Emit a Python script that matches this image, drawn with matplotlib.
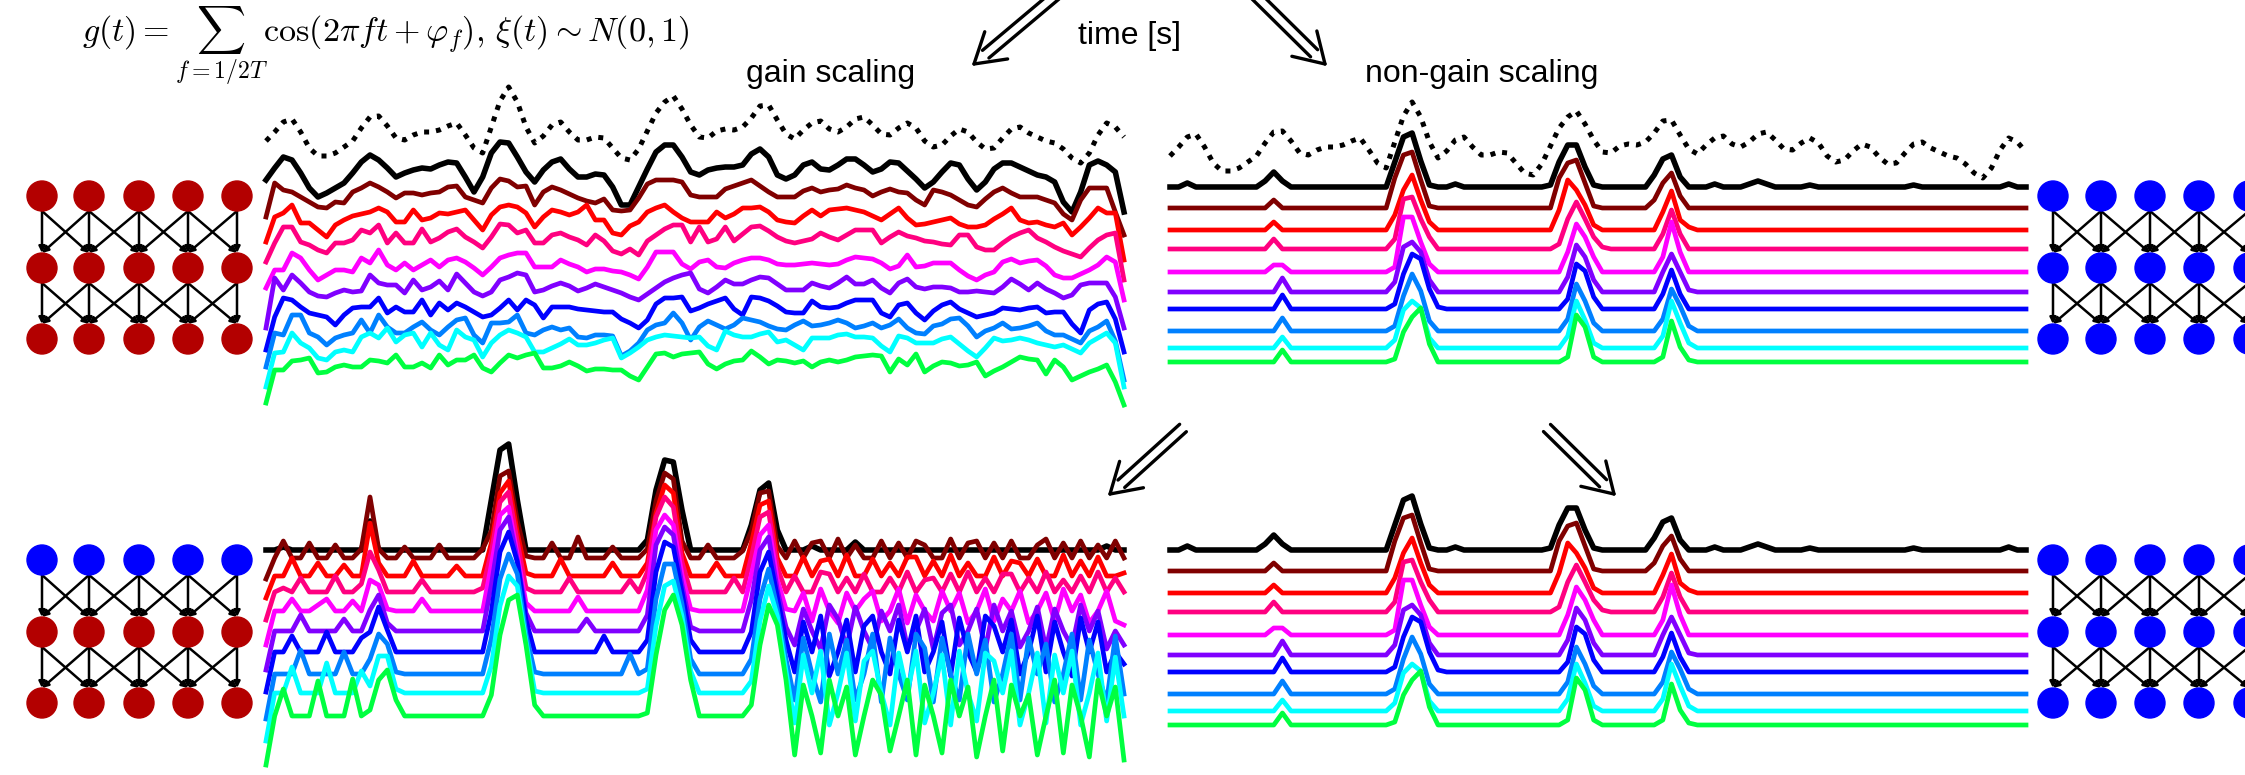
import matplotlib
matplotlib.use("Agg")
import matplotlib.pyplot as plt
import numpy as np
from matplotlib.patches import Circle, FancyArrowPatch

W, H = 2245, 775

# input signal g(t) (px above its baseline)
g_input = [29, 38, 48, 51, 38, 22, 14, 14, 17, 23,
           29, 42, 53, 54, 44, 32, 30, 35, 38, 38,
           40, 44, 47, 35, 22, 17, 43, 69, 83, 68,
           43, 27, 34, 45, 48, 38, 30, 30, 33, 32,
           22, 12, 10, 21, 39, 57, 68, 74, 61, 45,
           33, 32, 39, 41, 40, 43, 52, 64, 65, 50,
           36, 31, 40, 47, 49, 41, 38, 43, 51, 53,
           45, 36, 35, 42, 47, 42, 29, 23, 25, 34,
           41, 38, 28, 21, 22, 32, 41, 43, 37, 33,
           29, 27, 21, 12, 7, 17, 35, 47, 43, 33]

layer_colors = ["#000000", "#800000", "#ff0000", "#ff0080", "#ff00ff",
                "#8000ff", "#0000ff", "#0080ff", "#00ffff", "#00ff40"]
layer_off = [0, 21, 43, 62, 85, 105, 122, 144, 161, 175]

# gain scaling, top row (px above each layer baseline)
tl_traces = [
    [7, 19, 30, 27, 14, -1, -10, -6, -1, 4, 14, 25, 32, 27, 19, 10, 14, 17, 19, 18,
     22, 25, 24, 10, -5, 10, 34, 45, 44, 30, 15, 5, 17, 25, 28, 18, 10, 10, 13, 12,
     0, -18, -18, 0, 18, 35, 42, 42, 30, 15, 12, 17, 19, 20, 20, 22, 33, 38, 30, 12,
     8, 12, 22, 25, 18, 17, 22, 28, 28, 22, 15, 18, 25, 24, 16, 8, -1, 5, 15, 24,
     22, 8, -3, 5, 18, 24, 24, 20, 16, 12, 10, 5, -15, -25, -5, 22, 26, 22, 15, -25],
    [-9, 25, 18, 16, 11, 6, 1, 0, 6, 5, 16, 20, 25, 21, 16, 10, 15, 15, 13, 15,
     16, 21, 22, 11, 8, 5, 20, 29, 27, 21, 22, 3, 16, 21, 18, 14, 10, 7, 5, 9,
     -2, -3, -2, 10, 24, 28, 28, 28, 26, 13, 11, 11, 11, 19, 22, 25, 28, 22, 16, 11,
     11, 11, 17, 20, 16, 18, 19, 23, 20, 18, 12, 16, 19, 16, 15, 8, 3, 18, 16, 13,
     8, 3, 1, 9, 16, 20, 15, 11, 11, 11, 8, 5, -6, -12, 8, 20, 20, 20, -4, -27],
    [-12, 13, 17, 25, 7, 7, 0, -7, 5, 10, 14, 16, 18, 22, 18, 8, 8, 20, 10, 12,
     17, 16, 18, 20, 10, 0, 15, 23, 25, 23, 17, 3, 13, 20, 18, 15, 18, 25, 10, 10,
     -3, -5, 4, 8, 18, 22, 25, 18, 12, 8, 8, 8, 18, 12, 16, 22, 22, 23, 18, 10,
     8, 7, 14, 20, 14, 20, 21, 22, 20, 18, 14, 10, 16, 22, 12, 5, 6, 8, 10, 12,
     6, 3, 3, 5, 11, 16, 22, 10, 7, 8, 5, 3, 7, -5, 3, 12, 22, 17, 17, -30],
    [-13, 6, 22, 22, 7, 4, -1, -4, 6, 6, 9, 19, 16, 24, 6, 16, 6, 6, 20, 7,
     11, 17, 20, 12, 7, 1, 12, 25, 24, 16, 19, 6, 6, 14, 16, 12, 9, 4, 14, 8,
     -2, -5, 0, -6, 8, 14, 20, 24, 24, 7, 22, 7, 10, 22, 8, 15, 22, 23, 18, 12,
     8, 6, 8, 10, 16, 12, 9, 14, 19, 19, 19, 6, 12, 17, 13, 11, 8, 7, 5, 4,
     14, 14, 2, -1, -1, 6, 12, 16, 19, 11, 7, 2, -2, -5, -8, 1, 9, 14, 16, -31],
    [-16, 2, 2, 19, 14, 2, -8, -3, 2, 2, 0, 14, 9, 22, 7, 2, 9, 2, 7, 12,
     5, 12, 14, 10, 4, -3, 5, 14, 17, 19, 19, 5, 5, 5, 12, 8, 5, 0, 3, 3,
     1, 0, -3, -7, 5, 20, 20, 20, 8, 3, 10, 12, 5, 4, 9, 12, 14, 14, 12, 8,
     7, 7, 8, 9, 8, 7, 8, 12, 15, 14, 13, 9, 3, 6, 17, 5, 6, 9, 9, 9,
     2, -4, -8, -3, 0, 10, 13, 9, 11, 12, 6, -3, -6, -6, -2, 2, 7, 15, 10, -28],
    [-36, 14, 2, 17, 9, 0, -4, -5, -1, 2, 0, 1, 17, 9, 7, 7, -1, 12, 2, 5,
     11, 2, 18, 9, 0, -4, 0, 12, 15, 19, 17, 0, 2, 6, 9, 6, 1, 4, 8, 5,
     2, -1, -5, -8, -2, 4, 10, 14, 17, 19, 3, -1, 5, 12, 8, 8, 12, 15, 14, 8,
     2, 2, 2, 9, 6, 4, 9, 15, 8, 8, 12, 4, -1, 9, 13, 5, 3, 5, 5, 4,
     0, 0, 1, 0, -1, 5, 13, 8, 2, 9, 3, -1, -6, -3, 7, 9, 9, 9, -5, -36],
    [-41, -8, 11, 9, 2, -4, -6, -8, -16, -6, 1, 2, 2, 11, -4, 2, -3, -3, 9, -6,
     6, -1, 6, 2, -3, -8, -6, 1, 9, -1, 9, 4, -9, 2, 2, 2, 0, -1, -2, -3,
     -3, -10, -14, -19, -11, 5, 11, 11, 12, -2, 1, 5, 8, 11, 0, -6, 12, 11, 8, 3,
     -3, -4, -4, 8, 2, 1, 2, 6, 9, 9, 9, -4, -8, 4, 6, -4, -11, -2, 4, 7,
     0, -4, -8, -6, -4, 1, 0, -1, 1, 2, -4, -3, -3, -15, -24, -1, 5, 7, -10, -43],
    [-36, -2, -4, 16, 16, -2, -6, -14, -7, -4, -2, 11, -2, 16, 4, -2, -2, 4, 9, 1,
     -4, 4, 11, 13, -4, -12, 8, 8, 9, 16, -2, -4, 1, 4, 1, 3, -6, -7, -4, -4,
     -5, -25, -20, -12, 1, 6, 8, 18, 8, -9, 4, 10, 6, 2, 6, 13, 11, 9, 5, 2,
     1, 6, 10, 5, 6, 8, 11, 8, 3, 5, 8, 3, 6, 12, 3, -2, -3, 5, 7, 12,
     13, 5, -6, 0, 3, 8, 2, 3, 5, 8, 0, -4, -4, -8, -12, 0, 4, 10, -10, -49],
    [-39, -5, -4, 15, 5, 0, -10, -12, -4, -2, -4, 11, 15, 10, 20, 6, 13, 15, 1, 15,
     3, -2, 18, 11, 8, -9, 5, 13, 18, 15, 11, -4, -4, 0, 4, 9, 3, 3, 5, 8,
     10, -10, -5, 1, 8, 11, 13, 12, 11, 10, 11, 2, -2, 17, 13, 11, 11, 14, 16, 6,
     8, 3, -2, 10, 10, 10, 13, 14, 11, 11, 10, 2, -4, 12, 10, 5, 5, 5, 9, 11,
     4, -3, -9, 0, 10, 7, 8, 10, 8, 5, 3, 1, 3, -1, -5, 5, 10, 15, 5, -39],
    [-41, -8, -8, 1, 2, 4, -11, -10, -5, -3, -5, -5, 2, 1, -1, 7, -5, -5, -1, -6,
     7, -3, 2, 2, 7, -6, -10, -1, 7, 4, 7, 9, -6, -6, -4, 0, -4, -9, -7, -7,
     -8, -8, -14, -18, -5, 8, 9, 5, 8, 9, 10, -2, -7, -2, 1, 2, 11, 5, -2, 2,
     1, -1, 1, -5, 0, 2, 0, 2, 5, 6, 7, 6, -10, 3, -3, 8, -10, -4, 0, -1,
     -4, -3, 0, -14, -9, -5, 0, 5, 3, 2, -12, 2, -5, -18, -14, -10, -7, -3, -20, -43],
]

# non-gain scaling: flat traces with a few bumps {sample: height}
tr_peaks = [
    {2: 4, 11: 6, 12: 15, 13: 6, 26: 25, 27: 50, 28: 54, 29: 26, 30: 2, 33: 3,
     44: 2, 45: 25, 46: 42, 47: 42, 48: 20, 49: 2, 56: 12, 57: 28, 58: 32, 59: 10,
     63: 3, 67: 3, 68: 6, 69: 3, 74: 2, 86: 2, 97: 3},
    {12: 8, 26: 30, 27: 53, 28: 56, 29: 28, 30: 2, 45: 30, 46: 45, 47: 48, 48: 25,
     49: 2, 56: 8, 57: 25, 58: 35, 59: 12},
    {12: 8, 26: 15, 27: 40, 28: 55, 29: 30, 30: 8, 45: 20, 46: 50, 47: 40, 48: 25,
     49: 5, 57: 18, 58: 39, 59: 10, 60: 3},
    {12: 10, 26: 10, 27: 50, 28: 52, 29: 30, 30: 12, 45: 5, 46: 30, 47: 47, 48: 30,
     49: 12, 50: 2, 57: 15, 58: 39, 59: 15},
    {12: 7, 13: 7, 26: 5, 27: 55, 28: 55, 29: 30, 30: 8, 46: 20, 47: 48, 48: 35,
     49: 15, 57: 15, 58: 50, 59: 20},
    {13: 14, 26: 10, 27: 45, 28: 50, 29: 40, 30: 12, 46: 15, 47: 47, 48: 35, 49: 12,
     57: 20, 58: 38, 59: 20, 60: 2},
    {13: 14, 26: 5, 27: 35, 28: 55, 29: 50, 30: 20, 31: 2, 46: 10, 47: 45, 48: 38,
     49: 12, 57: 15, 58: 39, 59: 15},
    {13: 13, 26: 5, 27: 35, 28: 57, 29: 40, 30: 10, 46: 12, 47: 47, 48: 30, 49: 8,
     57: 12, 58: 42, 59: 25, 60: 5},
    {13: 11, 26: 8, 27: 38, 28: 47, 29: 40, 30: 10, 46: 12, 47: 47, 48: 28, 49: 5,
     57: 12, 58: 47, 59: 25, 60: 5},
    {13: 12, 26: 3, 27: 30, 28: 45, 29: 54, 30: 18, 46: 5, 47: 47, 48: 35, 49: 5,
     57: 5, 58: 41, 59: 15, 60: 2},
]
br_peaks = tr_peaks

# gain scaling, bottom row: black input is the thresholded signal
bl_black = {2: 3, 12: 29, 26: 50, 27: 100, 28: 106, 29: 50, 44: 10, 45: 60, 46: 90,
            47: 88, 48: 40, 56: 25, 57: 60, 58: 67, 59: 20, 63: 4, 68: 8, 97: 4}
bl_traces = [
    [-8, 13, 30, 13, 13, 28, 13, 13, 26, 13, 13, 22, 74, 22,
     13, 13, 24, 13, 13, 13, 26, 13, 13, 13, 13, 22, 40, 95, 100, 50, 15,
     13, 13, 28, 13, 13, 34, 13, 13, 13, 24, 13, 13, 13, 22, 70, 98, 92, 30, 13,
     13, 26, 13, 13, 13, 20, 40, 78, 80, 25,
     13, 30, 13, 28, 30, 13, 32, 13, 26, 13, 13, 30, 13, 28, 13, 30, 26, 13, 13, 32,
     13, 28, 30, 13, 28, 13, 30, 13, 13, 26, 32, 13, 28, 13, 30, 13, 26, 13, 30, 13],
    [-5, 17, 17, 35, 17, 17, 30, 17, 17, 28, 17, 17, 70, 30,
     17, 17, 17, 32, 17, 17, 17, 17, 27, 17, 17, 17, 50, 100, 112, 60, 20,
     17, 17, 17, 34, 17, 17, 17, 17, 17, 30, 17, 17, 17, 30, 80, 108, 100, 40, 17,
     17, 17, 30, 17, 17, 17, 50, 88, 92, 35,
     17, 17, 36, 17, 32, 34, 17, 38, 17, 17, 34, 17, 30, 17, 36, 36, 17, 32, 17, 38,
     17, 30, 17, 17, 36, 17, 32, 30, 17, 34, 17, 17, 38, 17, 32, 17, 36, 17, 17, 20],
    [-8, 20, 24, 20, 34, 20, 20, 20, 36, 20, 20, 28, 60, 42,
     20, 20, 20, 20, 32, 20, 20, 20, 20, 20, 20, 24, 60, 110, 120, 70, 24,
     20, 20, 20, 20, 34, 20, 20, 20, 20, 20, 20, 32, 20, 40, 95, 115, 105, 50, 20,
     20, 20, 20, 20, 34, 20, 55, 95, 100, 45,
     20, 36, 20, 20, 40, 38, 20, 34, 20, 38, 20, 20, 34, 20, 40, 20, 32, 34, 20, 38,
     20, 40, 20, 34, 20, 38, 38, 20, 34, 20, 40, 20, 32, 20, 36, 20, 40, 20, 34, 20],
    [-10, 24, 24, 36, 24, 24, 30, 36, 24, 24, 34, 24, 55, 50, 26,
     24, 24, 24, 36, 24, 24, 24, 24, 24, 24, 24, 70, 120, 128, 80, 32,
     24, 24, 24, 24, 24, 38, 24, 24, 24, 24, 24, 24, 24, 45, 105, 120, 110, 60, 26,
     24, 24, 24, 24, 24, 24, 60, 100, 110, 55, 26,
     24, 42, 14, 46, 24, 12, 42, 24, 36, 44, 14, 24, 46, 12, 40, 24, 14, 44, 24, 42,
     12, 24, 46, 14, 36, 24, 44, 12, 24, 42, 14, 46, 24, 40, 12, 24, 44, 14, 10],
    [-15, 24, 24, 24, 40, 24, 24, 24, 24, 36, 24, 24, 45, 60, 32,
     24, 24, 24, 24, 24, 24, 24, 24, 24, 24, 24, 70, 125, 138, 95, 42, 24,
     24, 24, 24, 24, 24, 36, 24, 24, 24, 24, 24, 24, 40, 110, 128, 120, 70, 28,
     24, 24, 24, 24, 24, 24, 55, 105, 118, 65, 28,
     10, 46, 24, 6, 50, 36, 8, 48, 24, 6, 44, 24, 50, 8, 24, 46, 6, 42, 50, 10,
     24, 46, 6, 50, 24, 44, 8, 24, 48, 6, 46, 24, 8, 50, 24, 44, 6, 24, 10],
    [-20, 20, 20, 36, 20, 20, 20, 40, 20, 20, 20, 34, 40, 65, 42,
     20, 20, 20, 20, 20, 20, 20, 20, 20, 20, 20, 60, 120, 140, 110, 52, 20,
     20, 20, 20, 20, 20, 20, 20, 36, 20, 20, 20, 20, 32, 100, 130, 125, 80, 32,
     20, 20, 20, 20, 20, 20, 40, 100, 120, 75, 32,
     0, 50, 20, 56, -4, 20, 52, 0, 46, 56, 20, -2, 52, 20, 56, 0, 20, 50, -4, 54,
     20, 0, 56, 46, 20, 52, -2, 20, 56, 0, 50, 20, -4, 54, 20, 50, 0, 20, 8],
    [-25, 20, 20, 20, 44, 20, 20, 20, 20, 42, 20, 20, 35, 60, 50, 22,
     20, 20, 20, 20, 20, 20, 20, 20, 20, 20, 55, 115, 140, 120, 60, 22,
     20, 20, 20, 20, 20, 20, 20, 20, 20, 20, 40, 20, 25, 95, 130, 130, 90, 35,
     20, 20, 20, 20, 20, 20, 35, 95, 125, 85, 35,
     -6, 56, 20, -8, 60, 20, 54, -6, 20, 60, -8, 56, 20, -6, 60, 46, -8, 56, 20, -6,
     60, 20, 54, -8, 20, 60, -6, 56, 20, 50, -8, 20, 60, -6, 54, 20, -8, 58, 0],
    [-30, 18, 18, 44, 18, 18, 18, 48, 18, 18, 18, 40, 25, 55, 55, 22,
     18, 18, 18, 18, 18, 18, 18, 18, 18, 18, 45, 105, 135, 125, 70, 20,
     18, 18, 18, 18, 18, 18, 18, 18, 18, 18, 18, 18, 22, 85, 125, 130, 95, 40,
     18, 18, 18, 18, 18, 18, 30, 90, 125, 95, 40,
     -12, 56, 18, 60, -14, 18, 58, -10, 50, 60, 18, -14, 58, 18, 60, -12, 18, 56, -14, 60,
     18, -10, 58, 50, 18, 60, -14, 18, 58, -12, 56, 18, 60, -14, 18, 58, -10, 54, -5],
    [-40, 9, 36, 9, 9, 9, 44, 9, 9, 9, 46, 9, 15, 45, 55, 25,
     9, 9, 9, 9, 9, 9, 9, 9, 9, 9, 30, 90, 125, 130, 80, 20,
     9, 9, 9, 9, 9, 9, 9, 9, 9, 9, 9, 9, 12, 70, 115, 130, 100, 45,
     9, 9, 9, 9, 9, 9, 20, 80, 120, 100, 45,
     -30, 40, 9, -28, 45, 9, 38, -30, 9, 45, 30, -26, 9, 45, -30, 40, 9, -28, 45, 9,
     38, -32, 9, 45, -26, 40, 9, 30, -30, 9, 45, -28, 40, 9, -32, 45, 9, 38, -35],
]

N = len(g_input)
fig = plt.figure(figsize=(W / 100, H / 100), dpi=100)

ov = fig.add_axes([0, 0, 1, 1])
ov.set_xlim(0, W)
ov.set_ylim(H, 0)
ov.axis("off")


def panel(x0, x1):
    ax = fig.add_axes([x0 / W, 0, (x1 - x0) / W, 1])
    ax.set_xlim(0, N - 1)
    ax.set_ylim(H, 0)
    ax.axis("off")
    return ax


def sparse(peaks):
    y = np.zeros(N)
    for i, v in peaks.items():
        y[i] = v
    return y


def draw_stack(ax, traces, base, lw=3.4):
    for k, tr in enumerate(traces):
        tr = np.asarray(tr, float)
        ax.plot(np.arange(len(tr)), base + layer_off[k] - tr, color=layer_colors[k],
                lw=lw + (0.6 if k == 0 else 0), solid_joinstyle="round", clip_on=False)


dots = dict(color="k", lw=3.6, ls=(0, (1, 1.4)), clip_on=False)

# top left: gain scaling
ax = panel(266, 1124)
ax.plot(np.arange(N), 170 - np.asarray(g_input), **dots)
draw_stack(ax, tl_traces, 187)

# top right: non-gain scaling
ax = panel(1170, 2026)
ax.plot(np.arange(N), 185 - np.asarray(g_input), **dots)
draw_stack(ax, [sparse(p) for p in tr_peaks], 187)

# bottom left
ax = panel(266, 1124)
draw_stack(ax, [sparse(bl_black)] + bl_traces, 550)

# bottom right
ax = panel(1170, 2026)
draw_stack(ax, [sparse(p) for p in br_peaks], 550)

# small network sketches
RED, BLUE = "#b30000", "#0000ff"
cols_l = [42, 89, 139, 188, 237]
cols_r = [2053, 2101, 2150, 2199, 2249]
rows_t = [196, 268, 339]
rows_b = [560, 632, 703]
R = 15


def network(cols, rows, colors):
    for r in range(len(rows) - 1):
        for j, xs in enumerate(cols):
            for jt in (j - 1, j, j + 1):
                if 0 <= jt < len(cols):
                    ov.add_patch(FancyArrowPatch((xs, rows[r] + R), (cols[jt], rows[r + 1] - R),
                                                 arrowstyle="-|>", mutation_scale=9, lw=1.8,
                                                 color="k", shrinkA=0, shrinkB=0))
    for r, y in enumerate(rows):
        for x in cols:
            ov.add_patch(Circle((x, y), R, color=colors[r], zorder=3))


network(cols_l, rows_t, [RED, RED, RED])
network(cols_r, rows_t, [BLUE, BLUE, BLUE])
network(cols_l, rows_b, [BLUE, RED, RED])
network(cols_r, rows_b, [BLUE, BLUE, BLUE])


def double_arrow(tail, tip, gap=10, head=34, lw=2.4):
    t, h = np.array(tail, float), np.array(tip, float)
    d = (h - t) / np.hypot(*(h - t))
    n = np.array([-d[1], d[0]])
    for s in (-1, 1):
        a = t + s * gap / 2 * n
        b = h - d * head * 0.45 + s * gap / 2 * n
        ov.plot([a[0], b[0]], [a[1], b[1]], color="k", lw=lw, solid_capstyle="round")
    for ang in (0.55, -0.55):
        c, s_ = np.cos(ang), np.sin(ang)
        back = -d
        v = np.array([c * back[0] - s_ * back[1], s_ * back[0] + c * back[1]])
        e = h + v * head
        ov.plot([h[0], e[0]], [h[1], e[1]], color="k", lw=lw, solid_capstyle="round")


double_arrow((1062, -10), (974, 64))
double_arrow((1250, -10), (1325, 64))
double_arrow((1183, 428), (1110, 494))
double_arrow((1547, 428), (1614, 494))

font = ["Liberation Sans", "DejaVu Sans"]
ov.text(1130, 36, "time [s]", fontsize=23, family=font, ha="center", va="center")
ov.text(831, 74, "gain scaling", fontsize=23, family=font, ha="center", va="center")
ov.text(1482, 74, "non-gain scaling", fontsize=23, family=font, ha="center", va="center")

plt.rcParams["mathtext.fontset"] = "cm"
ov.text(82, 42, r"$g(t) = \sum_{f=1/2T} \cos(2\pi f t + \varphi_f),\, \xi(t) \sim N(0,1)$",
        fontsize=24.5, ha="left", va="baseline")

fig.savefig("out.png", dpi=100)
